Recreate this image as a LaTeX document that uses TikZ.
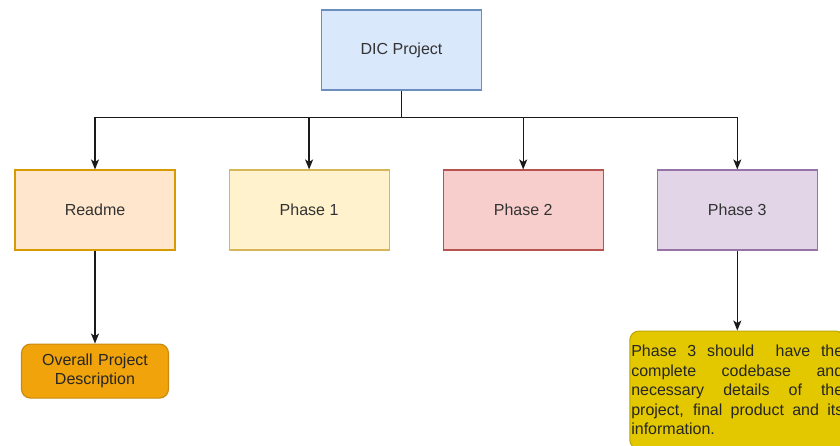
\documentclass[tikz,border=0pt]{standalone}
\usepackage{fontspec}
\setmainfont{Liberation Sans}
\usetikzlibrary{arrows.meta,positioning}
\hyphenpenalty=10000
\exhyphenpenalty=10000
\tolerance=10000

\definecolor{blueF}{HTML}{DAE8FC}   \definecolor{blueD}{HTML}{6C8EBF}
\definecolor{orangeF}{HTML}{FFE6CC} \definecolor{orangeD}{HTML}{D79B00}
\definecolor{yellowF}{HTML}{FFF2CC} \definecolor{yellowD}{HTML}{D6B656}
\definecolor{redF}{HTML}{F8CECC}    \definecolor{redD}{HTML}{B85450}
\definecolor{purpleF}{HTML}{E1D5E7} \definecolor{purpleD}{HTML}{9673A6}
\definecolor{amberF}{HTML}{F0A30A}  \definecolor{amberD}{HTML}{C98A10}
\definecolor{goldF}{HTML}{E3C800}   \definecolor{goldD}{HTML}{C0A800}
\definecolor{txt}{HTML}{333333}
\definecolor{wire}{HTML}{1A1A1A}

\begin{document}
\begin{tikzpicture}[x=1pt,y=-1pt,->,>={Stealth[length=10pt,width=8pt,inset=2.5pt]},
    line width=1.3pt,draw=wire,
    font=\fontsize{16}{19.5}\selectfont]
  \tikzstyle{box}=[rectangle,draw,line width=1.1pt,text=txt,minimum width=160pt,minimum height=80pt]
  \tikzstyle{note}=[rectangle,draw,line width=1.1pt,rounded corners=9pt,text=black!85]
  \useasboundingbox (0,0) rectangle (840,446);
  \clip (0,0) rectangle (840,446);

  \node[box,fill=blueF,draw=blueD]       (dic)    at (401.5,50) {DIC Project};
  \node[box,fill=orangeF,draw=orangeD]   (readme) at (95,210)   {Readme};
  \node[box,fill=yellowF,draw=yellowD]   (ph1) [right=53pt of readme] {Phase 1};
  \node[box,fill=redF,draw=redD]         (ph2) [right=53pt of ph1]    {Phase 2};
  \node[box,fill=purpleF,draw=purpleD]   (ph3) [right=53pt of ph2]    {Phase 3};

  \node[note,fill=amberF,draw=amberD,text width=147pt,minimum height=54pt,
        inner sep=0pt,align=center]      (desc) [below=93pt of readme]
        {Overall Project\\Description};
  \node[note,fill=goldF,draw=goldD,text width=212pt,inner xsep=1.5pt,inner ysep=14pt,
        align=justify]                   (info) [below=80pt of ph3]
        {Phase 3 should\ \ have the complete codebase and necessary details of the
         project, final product and its\linebreak information.};

  \draw[-] (dic.south) -- ++(0,27) coordinate (bus);
  \foreach \n in {readme,ph1,ph2,ph3}
    \draw (bus) -| (\n.north);
  \path (readme) edge (desc)
        (ph3)    edge (info);
\end{tikzpicture}
\end{document}
